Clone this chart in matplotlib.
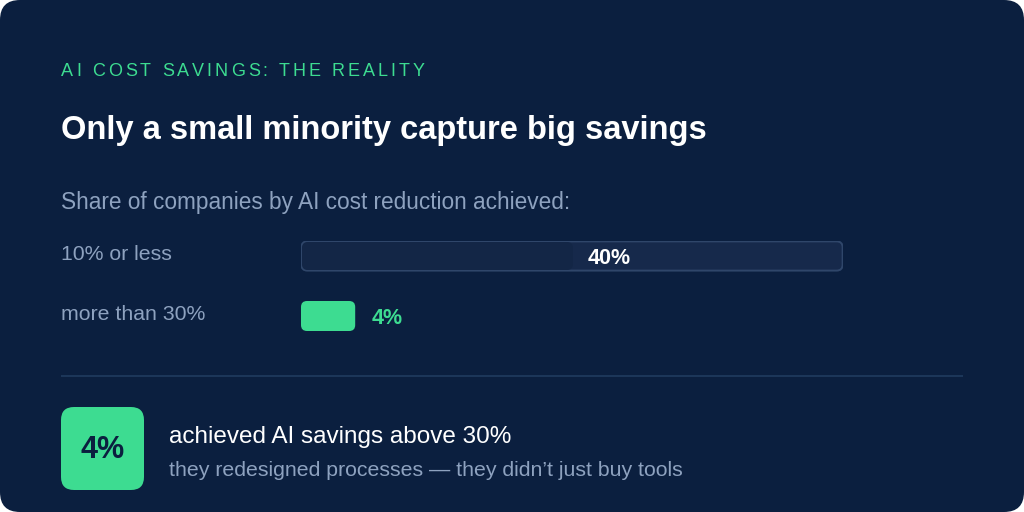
import matplotlib.pyplot as plt
from matplotlib.patches import FancyBboxPatch

plt.rcParams['font.family'] = ['Liberation Sans', 'DejaVu Sans']

# dados
eyebrow = 'AI COST SAVINGS: THE REALITY'
titulo = 'Only a small minority capture big savings'
subtitulo = 'Share of companies by AI cost reduction achieved:'
categorias = ['10% or less', 'more than 30%']
valores = [40, 4]
rotulos = ['40%', '4%']
destaque = '4%'
destaque_texto = 'achieved AI savings above 30%'
destaque_sub = 'they redesigned processes \u2014 they didn\u2019t just buy tools'

# cores
bg = '#0b1f3f'
verde = '#3ddc91'
cinza = '#8ea2bf'
track_cor = '#16294b'
borda_cor = '#2f466a'
fill_escuro = '#132646'

W, H = 1024, 512
fig = plt.figure(figsize=(W / 100, H / 100), dpi=100, facecolor='white')

# eixo de fundo em pixels
base = fig.add_axes([0, 0, 1, 1])
base.set_xlim(0, W)
base.set_ylim(H, 0)
base.axis('off')
base.add_patch(FancyBboxPatch((0, 0), W, H, boxstyle='round,pad=0,rounding_size=20',
                              facecolor=bg, edgecolor='none'))

# eyebrow com espaçamento entre letras
renderer = fig.canvas.get_renderer()
x = 61
for ch in eyebrow:
    t = base.text(x, 75.5, ch, color=verde, fontsize=13, va='baseline', ha='left')
    larg = t.get_window_extent(renderer).width
    if ch == ' ':
        larg = 5
    x += larg + 3.0

base.text(61, 139, titulo, color='white', fontsize=23.5, fontweight='bold', va='baseline', ha='left')
base.text(61, 209, subtitulo, color=cinza, fontsize=16.3, va='baseline', ha='left')

for i, cat in enumerate(categorias):
    base.text(61, 259.5 + 60 * i, cat, color=cinza, fontsize=15.3, va='baseline', ha='left')

# divisor
base.plot([61, 963], [376, 376], color='#1e395c', lw=1.3, solid_capstyle='butt')

# caixa de destaque
base.add_patch(FancyBboxPatch((61, 407), 83, 83, boxstyle='round,pad=0,rounding_size=13',
                              facecolor=verde, edgecolor='none'))
base.text(102.5, 450.5, destaque, color=bg, fontsize=22, fontweight='bold', va='center', ha='center')
base.text(169, 443.5, destaque_texto, color='white', fontsize=17.5, va='baseline', ha='left')
base.text(169, 476, destaque_sub, color=cinza, fontsize=15.3, va='baseline', ha='left')

# barras
x0, x1 = 301, 843
y0, y1 = 241, 331
ax = fig.add_axes([x0 / W, 1 - y1 / H, (x1 - x0) / W, (y1 - y0) / H])
track_max = 80
min_bar = 8
ax.set_xlim(0, track_max)
ax.set_ylim(1.25, -0.25)
ax.axis('off')
ax.patch.set_alpha(0)

ux = track_max / (x1 - x0)  # unidades por pixel
uy = 1.5 / (y1 - y0)
asp = uy / ux
raio = 6 * ux

# trilho do primeiro
ax.add_patch(FancyBboxPatch((0.4 * ux, -0.25 + 0.4 * uy), track_max - 0.8 * ux, 0.5 - 0.8 * uy,
                            boxstyle=f'round,pad=0,rounding_size={raio}', mutation_aspect=asp,
                            facecolor=track_cor, edgecolor=borda_cor, lw=1.4))

larguras = [max(v, min_bar) for v in valores]
barras = ax.barh(range(len(valores)), larguras, height=0.5)
cores_barras = [fill_escuro, verde]
for b, c in zip(barras, cores_barras):
    b.set_visible(False)
    bb = FancyBboxPatch((b.get_x() + 1.0 * ux, b.get_y() + 1.0 * uy) if c == fill_escuro else (b.get_x(), b.get_y()),
                        b.get_width(), b.get_height() - (2.0 * uy if c == fill_escuro else 0),
                        boxstyle=f'round,pad=0,rounding_size={raio}', mutation_aspect=asp,
                        facecolor=c, edgecolor='none')
    ax.add_patch(bb)

cores_rot = ['white', verde]
for i, (w, r) in enumerate(zip(larguras, rotulos)):
    ax.text(w + 16 * ux, i + 0.035, r, color=cores_rot[i], fontsize=15.5, fontweight='bold',
            va='center', ha='left')

fig.savefig('out.png', dpi=100, facecolor='white')
